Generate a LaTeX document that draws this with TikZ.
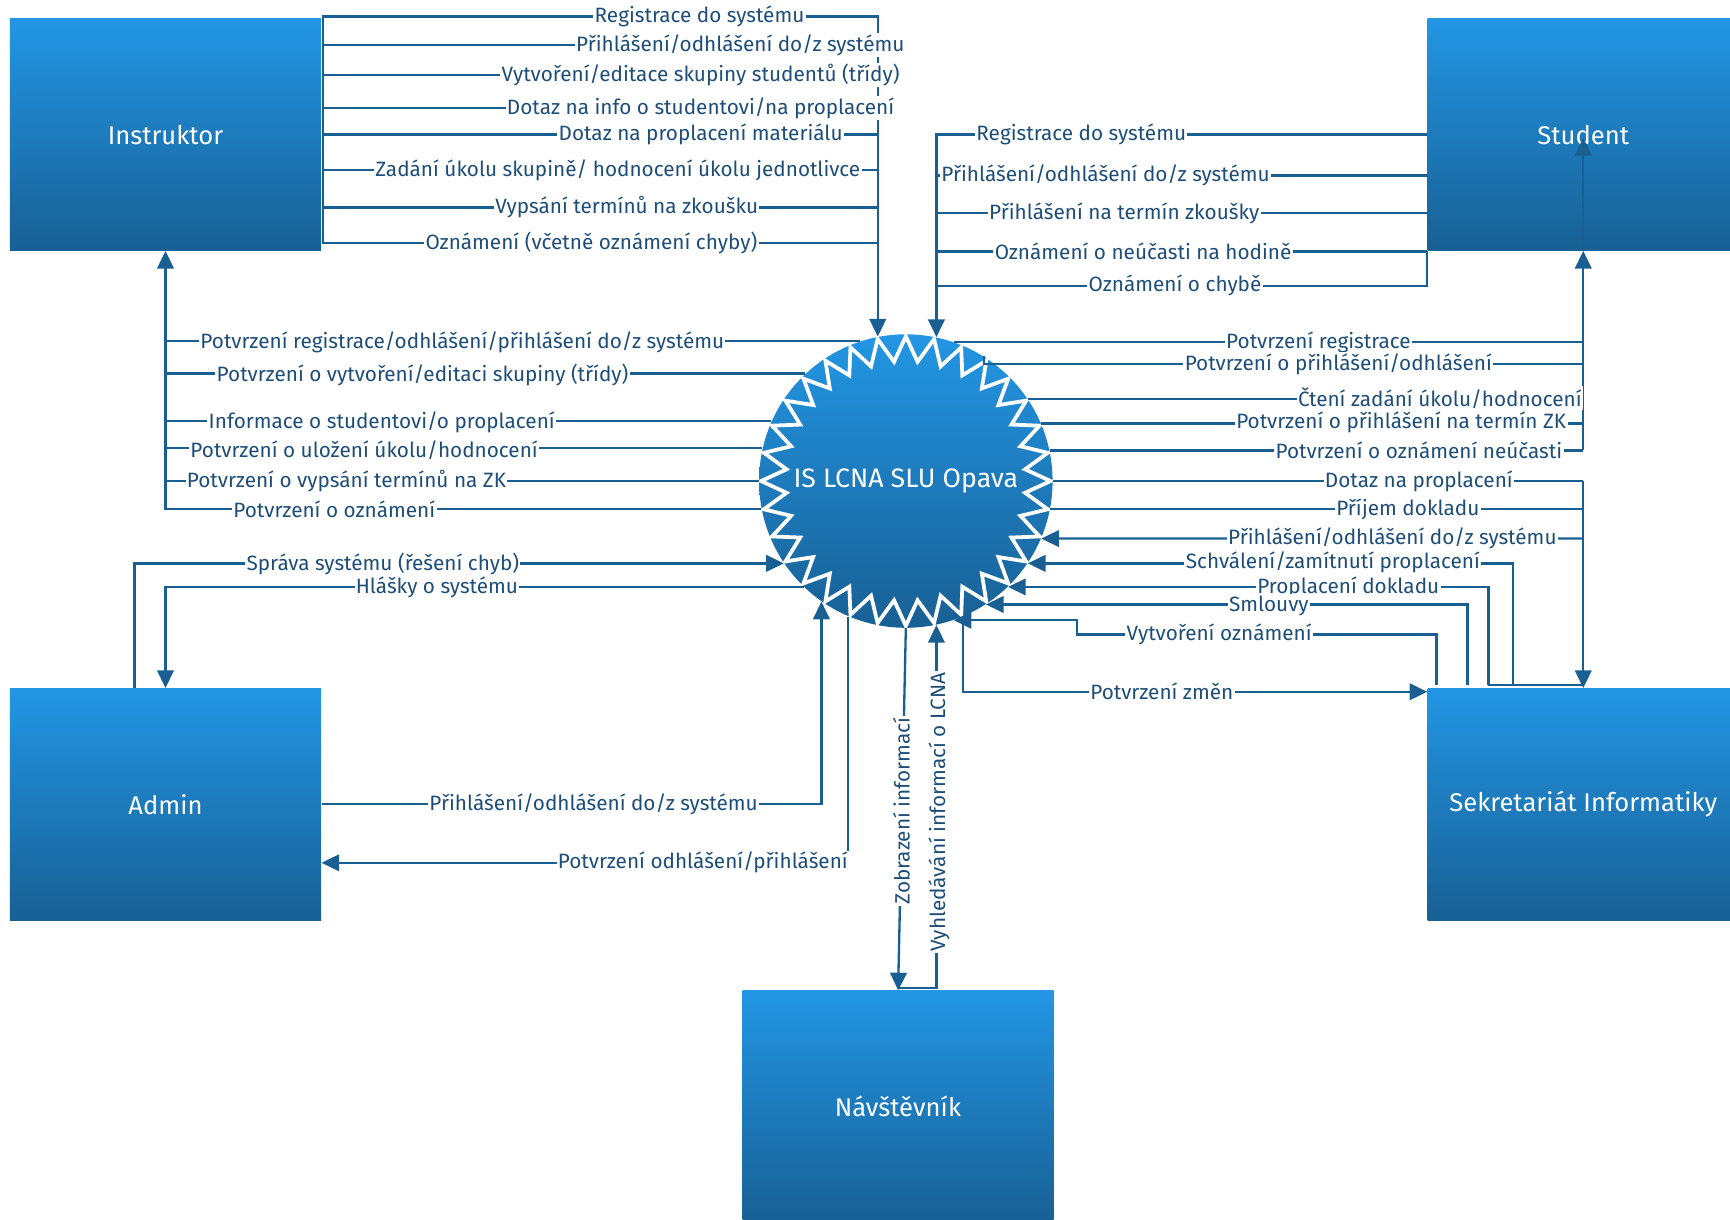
\documentclass[tikz,border=0pt]{standalone}
\usepackage{fontspec}
\setmainfont{Fira Sans}
\usetikzlibrary{arrows.meta}
\definecolor{boxtop}{RGB}{35,150,228}
\definecolor{boxbot}{RGB}{24,96,148}
\definecolor{lncol}{RGB}{26,95,145}
\definecolor{txtcol}{RGB}{30,78,120}
\begin{document}
\begin{tikzpicture}[x=0.5pt,y=-0.5pt,
 entity/.style={rectangle,inner sep=0pt,minimum width=141pt,minimum height=105pt,top color=boxtop,bottom color=boxbot,text=white,font=\fontsize{11.6}{14}\selectfont},
 ln/.style={draw=lncol,line width=1.05pt},
 arr/.style={-{Triangle[width=7.5pt,length=8pt]}},
 lbl/.style={fill=white,inner sep=0.6pt,text=txtcol,font=\fontsize{9.4}{11}\selectfont},
 zig/.style={draw=white,line width=1.7pt,line join=miter}]
\useasboundingbox (0,0) rectangle (1568,1105);
\clip (0,0) rectangle (1568,1105);
% entities
\node[entity] (instr) at (150,122) {Instruktor};
\node[entity] (stud) at (1435,122) {Student};
\node[entity] (adm) at (150,729) {Admin};
\node[entity] (sek) at (1435,729) {Sekretariát Informatiky};
\node[entity] (nav) at (814,1003) {Návštěvník};
% process
\node[circle,inner sep=0pt,minimum size=133pt,top color=boxtop,bottom color=boxbot] (circ) at (821,436) {};
\draw[zig] ([shift={(90:65.6pt)}]circ.center)
  \foreach \i in {0,...,31}{ -- ([shift={({90+\i*11.25+5.625}:54.3pt)}]circ.center) -- ([shift={({90+(\i+1)*11.25}:65.6pt)}]circ.center) } -- cycle;
\node[text=white,font=\fontsize{12.1}{14}\selectfont] (ctext) at (circ.center) {IS LCNA SLU Opava};
\coordinate (st) at ([yshift=1.5pt]sek.north);

% Instruktor -> system
\draw[ln] ([xshift=0.75pt]instr.east |- 0,15) -- ([xshift=0.75pt]instr.east |- 0,220);
\draw[ln,arr] (instr.east |- 0,15) -| (circ.101.7);
\foreach \yy in {41,68,98,122,154,188,220}{
  \draw[ln] (instr.east |- 0,\yy) -- (circ.101.7 |- 0,\yy);
}
\node[lbl] (t1) at (634,15) {Registrace do systému};
\node[lbl] (t2) at (671,41) {Přihlášení/odhlášení do/z systému};
\node[lbl] (t3) at (635,68) {Vytvoření/editace skupiny studentů (třídy)};
\node[lbl] (t4) at (635,98) {Dotaz na info o studentovi/na proplacení};
\node[lbl] (t5) at (635,122) {Dotaz na proplacení materiálu};
\node[lbl] (t6) at (560,154) {Zadání úkolu skupině/ hodnocení úkolu jednotlivce};
\node[lbl] (t7) at (568,188) {Vypsání termínů na zkoušku};
\node[lbl] (t8) at (536,220) {Oznámení (včetně oznámení chyby)};

% Student -> system
\draw[ln,arr] (stud.west |- 0,122) -| (circ.78.3);
\foreach \yy in {159,193,228}{
  \draw[ln] (stud.west |- 0,\yy) -- (circ.78.3 |- 0,\yy);
}
\draw[ln] (stud.south west) |- (circ.78.3 |- 0,259);
\node[lbl] (s1) at (980,122) {Registrace do systému};
\node[lbl] (s2) at (1002,159) {Přihlášení/odhlášení do/z systému};
\node[lbl] (s3) at (1019,193) {Přihlášení na termín zkoušky};
\node[lbl] (s4) at (1036,228) {Oznámení o neúčasti na hodině};
\node[lbl] (s5) at (1065,259) {Oznámení o chybě};

% system -> Student
\draw[ln,arr] (stud.south |- 0,408) -- (stud.south);
\draw[ln,arr] (stud.south) -- (stud.center |- 0,125);
\draw[ln] (circ.71.3) -- (stud.south |- circ.71.3);
\draw[ln] (circ.58.2) |- (stud.south |- 0,330);
\draw[ln] (circ.34.3) -- (stud.south |- circ.34.3);
\draw[ln] (circ.23.5) -- (stud.south |- circ.23.5);
\draw[ln] (circ.12.15) -- (stud.south |- circ.12.15);
\node[lbl] (r1) at (1195,310) {Potvrzení registrace};
\node[lbl] (r2) at (1213,330) {Potvrzení o přihlášení/odhlášení};
\node[lbl] (r3) at (1305,361) {Čtení zadání úkolu/hodnocení};
\node[lbl] (r4) at (1270,383) {Potvrzení o přihlášení na termín ZK};
\node[lbl] (r5) at (1286,408) {Potvrzení o oznámení neúčasti};

% system <-> Sekretariat
\draw[ln,arr] (sek.north |- 0,436) -- (sek.north);
\draw[ln] (circ.0) -- (sek.north |- circ.0);
\draw[ln] (circ.-11.27) -- (sek.north |- circ.-11.27);
\draw[ln,arr] (sek.north |- 0,488) -- (circ.-23);
\draw[ln] (st -| 1349,0) -- (st);
\draw[ln,arr] (st -| 1371,0) |- (circ.-34.3);
\draw[ln,arr] (st -| 1349,0) |- (circ.-46.2);
\draw[ln,arr] (st -| 1330,0) |- (circ.-57.4);
\draw[ln,arr] (st -| 1302,0) |- (976,575) |- (circ.-71.3);
\draw[ln,arr] (circ.-67.4) |- (sek.west |- 0,627);
\node[lbl] (k1) at (1286,436) {Dotaz na proplacení};
\node[lbl] (k2) at (1276,462) {Příjem dokladu};
\node[lbl] (k3) at (1262,488) {Přihlášení/odhlášení do/z systému};
\node[lbl] (k4) at (1208,510) {Schválení/zamítnutí proplacení};
\node[lbl] (k5) at (1222,532) {Proplacení dokladu};
\node[lbl] (k6) at (1150,549) {Smlouvy};
\node[lbl] (k7) at (1105,575) {Vytvoření oznámení};
\node[lbl] (k8) at (1053,627) {Potvrzení změn};

% system -> Instruktor
\draw[ln,arr] (instr.south |- 0,462) -- (instr.south);
\foreach \a in {108.7,133.8,156.5,167.85,180,191.27}{
  \draw[ln] (circ.\a) -- (instr.south |- circ.\a);
}
\node[lbl] (l1) at (419,310) {Potvrzení registrace/odhlášení/přihlášení do/z systému};
\node[lbl] (l2) at (383,340) {Potvrzení o vytvoření/editaci skupiny (třídy)};
\node[lbl] (l3) at (346,383) {Informace o studentovi/o proplacení};
\node[lbl] (l4) at (330,408) {Potvrzení o uložení úkolu/hodnocení};
\node[lbl] (l5) at (314,436) {Potvrzení o vypsání termínů na ZK};
\node[lbl] (l6) at (303,462) {Potvrzení o oznámení};

% Admin
\draw[ln,arr] (adm.north -| 122,0) |- (circ.214.3);
\draw[ln,arr] (circ.226.2) -| (adm.north);
\draw[ln,arr] (adm.east |- 0,729) -| (circ.235.7);
\draw[ln,arr] (circ.247) |- (adm.east |- 0,782);
\node[lbl] (a1) at (347,511) {Správa systému (řešení chyb)};
\node[lbl] (a2) at (396,532) {Hlášky o systému};
\node[lbl] (a3) at (538,729) {Přihlášení/odhlášení do/z systému};
\node[lbl] (a4) at (637,782) {Potvrzení odhlášení/přihlášení};

% Navstevnik
\draw[ln,arr] (circ.south) -- (nav.north);
\draw[ln,arr] ([yshift=1pt]nav.north) -| (circ.-78.3);
\node[lbl,rotate=90] (n1) at (817,735) {Zobrazení informací};
\node[lbl,rotate=90] (n2) at (851,736) {Vyhledávání informací o LCNA};
\end{tikzpicture}
\end{document}
